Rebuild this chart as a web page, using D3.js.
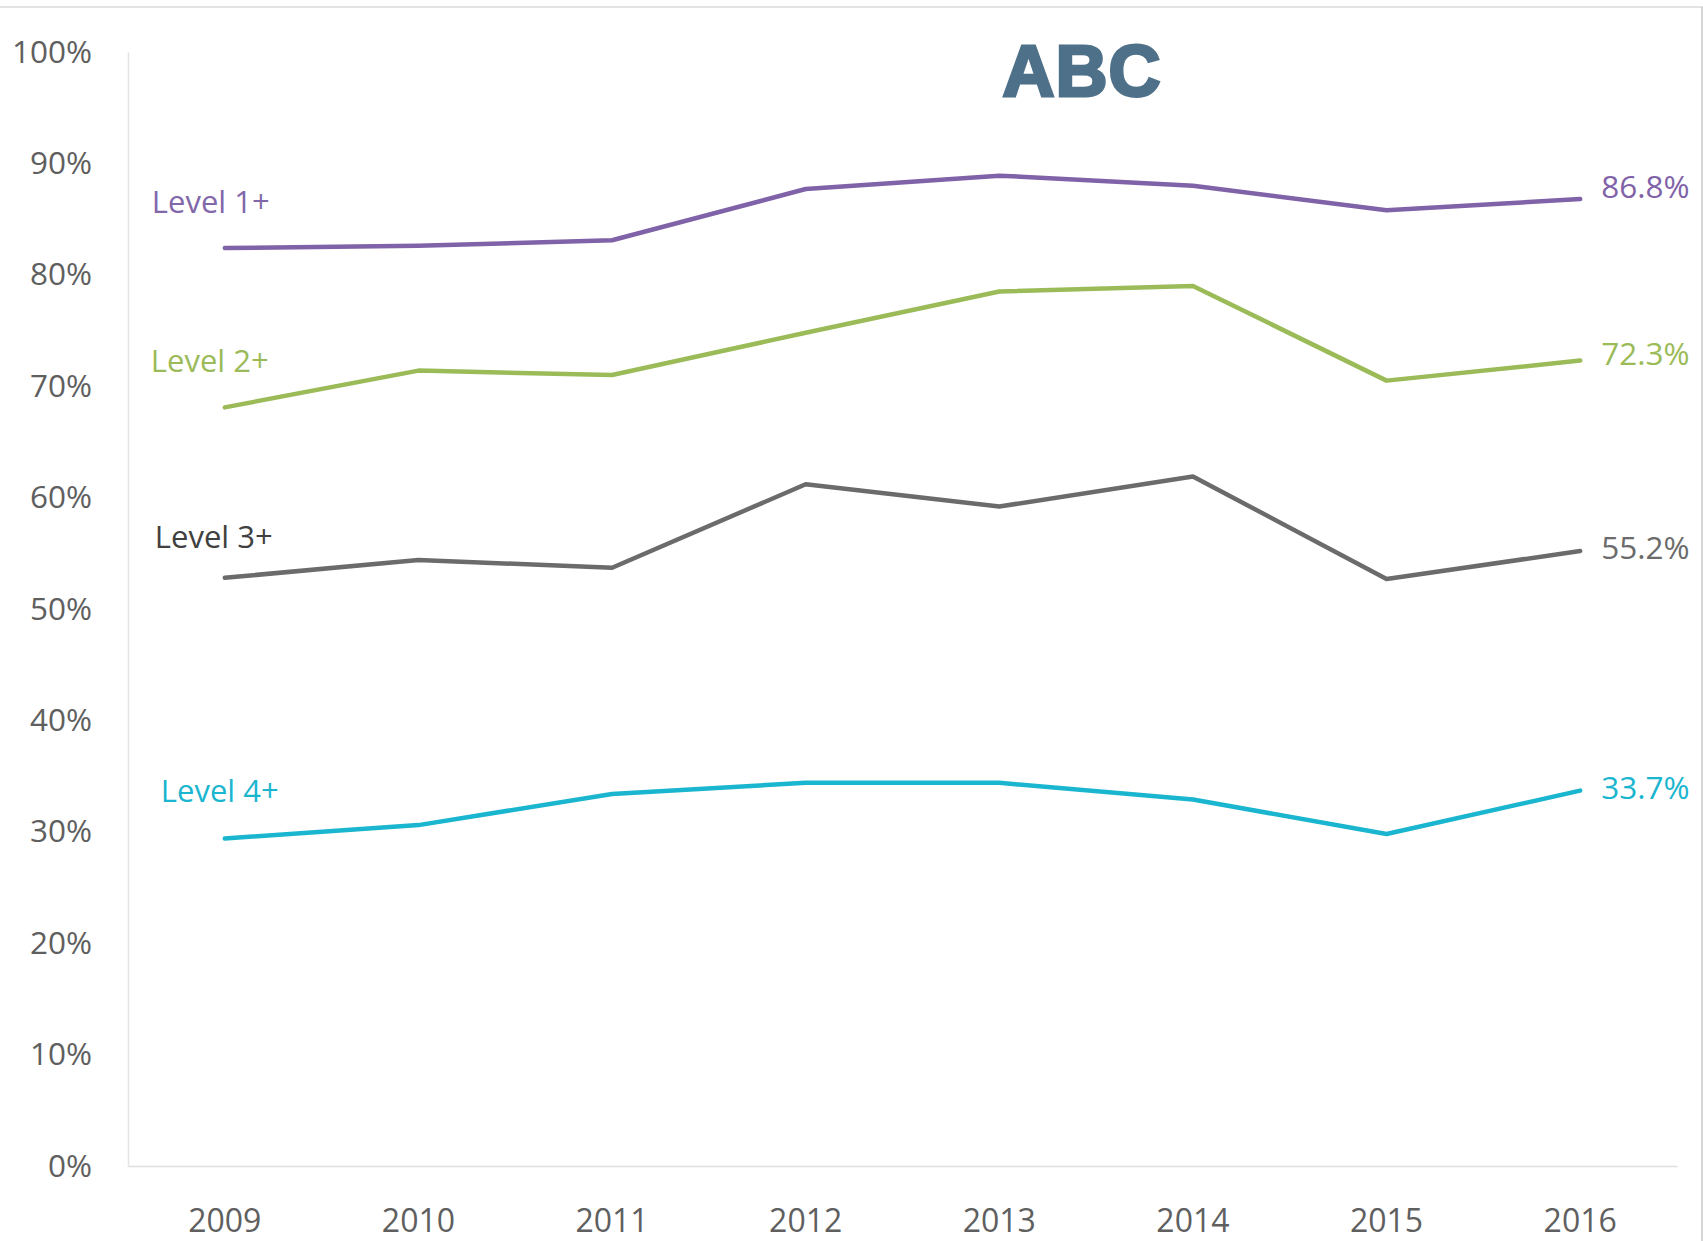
<!DOCTYPE html>
<html>
<head>
<meta charset="utf-8">
<script src="https://cdn.jsdelivr.net/npm/d3@7"></script>
<style>
  html, body { margin: 0; padding: 0; background: #fff; }
  svg { display: block; }
  .axis text { font-family: "Open Sans", sans-serif; fill: #5f5f5f; }
</style>
</head>
<body>
<svg id="chart"></svg>
<script>
// data
const years = ['2009', '2010', '2011', '2012', '2013', '2014', '2015', '2016'];
const seriesNames = ['Level 1+', 'Level 2+', 'Level 3+', 'Level 4+'];
const level1 = [82.4, 82.6, 83.1, 87.7, 88.9, 88.0, 85.8, 86.8];
const level2 = [68.1, 71.4, 71.0, 74.8, 78.5, 79.0, 70.5, 72.3];
const level3 = [52.8, 54.4, 53.7, 61.2, 59.2, 61.9, 52.7, 55.2];
const level4 = [29.4, 30.6, 33.4, 34.4, 34.4, 32.9, 29.8, 33.7];
const yTicks = [0, 10, 20, 30, 40, 50, 60, 70, 80, 90, 100];

const seriesValues = [level1, level2, level3, level4];
const lineColors = ['#7f62a7', '#9bbb59', '#6b6b6b', '#1ab5cf'];
const nameColors = ['#8268aa', '#9bbb59', '#404040', '#1ab5cf'];
// small placement tweaks for the labels, in pixels
const nameNudgeX = [-73, -74, -70, -64];
const nameNudgeY = [-35, -35, -30, -36];
const endNudgeY = [-11, -6, -2, -2];

const FONT = '"Open Sans", sans-serif';
const width = 1703, height = 1241;
const svg = d3.select('#chart').attr('width', width).attr('height', height);

// outer frame (only top and right edges show in the picture)
svg.append('line').attr('x1', 0).attr('x2', width).attr('y1', 7).attr('y2', 7).attr('stroke', '#d9d9d9').attr('stroke-width', 1.5);
svg.append('line').attr('x1', 1702).attr('x2', 1702).attr('y1', 7).attr('y2', height).attr('stroke', '#c8c8c8').attr('stroke-width', 1.5);

const x = d3.scaleBand().domain(years).range([128, 1677]);
const cx = d => x(d) + x.bandwidth() / 2;
const y = d3.scaleLinear().domain([0, 100]).range([1166, 52]);

// y axis
const yAxis = svg.append('g').attr('class', 'axis').attr('transform', 'translate(128,0)')
  .call(d3.axisLeft(y).tickValues(yTicks).tickFormat(d => d + '%').tickSizeInner(0).tickSizeOuter(0).tickPadding(36));
yAxis.select('.domain').attr('stroke', '#e3e3e3').attr('stroke-width', 1.5);
yAxis.selectAll('text').style('font-size', '31.5px');

// x axis
const xAxis = svg.append('g').attr('class', 'axis').attr('transform', 'translate(0,1166)')
  .call(d3.axisBottom(x).tickSizeInner(0).tickSizeOuter(0).tickPadding(43));
xAxis.select('.domain').attr('stroke', '#dedede').attr('stroke-width', 1.5);
xAxis.selectAll('text').style('font-size', '32px');

const line = d3.line().x((d, i) => cx(years[i])).y(d => y(d));

seriesValues.forEach((vals, s) => {
  svg.append('path').datum(vals)
    .attr('d', line)
    .attr('fill', 'none')
    .attr('stroke', lineColors[s])
    .attr('stroke-width', 4.5)
    .attr('stroke-linejoin', 'round')
    .attr('stroke-linecap', 'round');

  // series name above the first point
  svg.append('text')
    .attr('x', cx(years[0]) + nameNudgeX[s])
    .attr('y', y(vals[0]) + nameNudgeY[s])
    .attr('fill', nameColors[s])
    .style('font-family', FONT)
    .style('font-size', '31px')
    .text(seriesNames[s]);

  // last value at the end of the line
  const last = vals[vals.length - 1];
  svg.append('text')
    .attr('x', cx(years[years.length - 1]) + 21)
    .attr('y', y(last) + endNudgeY[s])
    .attr('dy', '0.33em')
    .attr('fill', lineColors[s])
    .style('font-family', FONT)
    .style('font-size', '31.5px')
    .text(last.toFixed(1) + '%');
});

// title
svg.append('text')
  .attr('x', 1082).attr('y', 96)
  .attr('text-anchor', 'middle')
  .attr('fill', '#4e7189')
  .attr('stroke', '#4e7189').attr('stroke-width', 3)
  .style('font-family', '"Liberation Sans", Arial, sans-serif')
  .style('font-weight', 'bold')
  .style('font-size', '72px')
  .style('letter-spacing', '1px')
  .text('ABC');
</script>
</body>
</html>
